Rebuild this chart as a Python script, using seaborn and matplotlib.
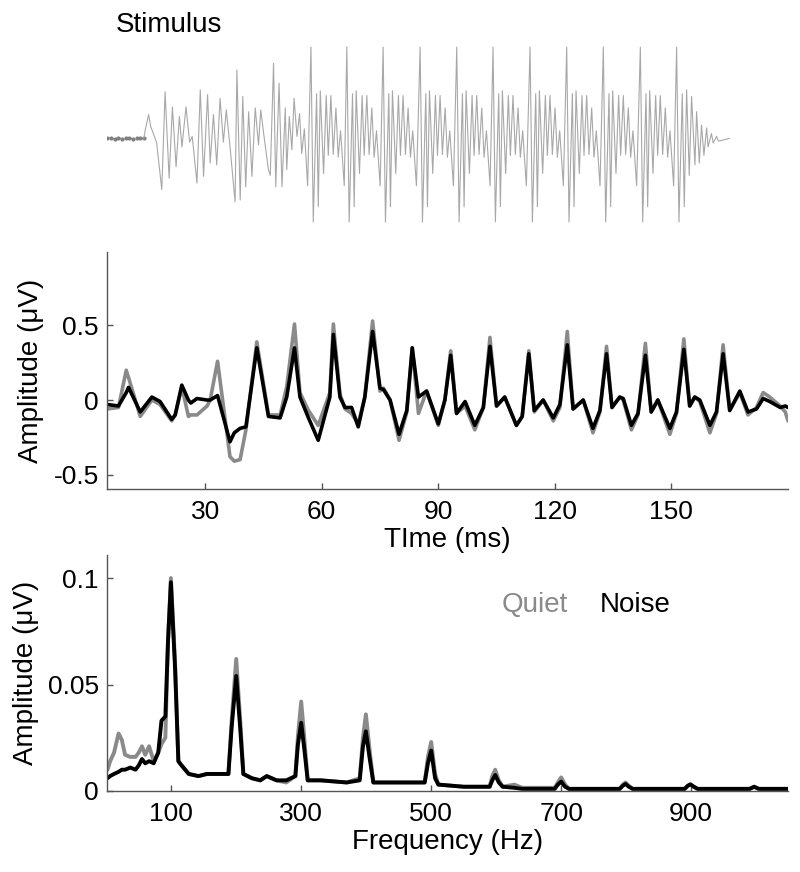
import numpy as np
import matplotlib
matplotlib.use("Agg")
import matplotlib.pyplot as plt
import seaborn as sns

# ---- stimulus ----
# pre-burst silence, 0-10 ms
pre_ms = [0, 1, 2, 3, 4, 5, 6, 7, 8, 9, 10]
pre_val = [0.0, 0.005, -0.005, 0.005, -0.005, 0.0, 0.005, -0.005, 0.0, 0.005, 0.0]

# onset burst and formant transition, extrema
trans_ms = [10.4, 11.3, 11.9, 12.6, 13.5, 14.9, 15.8, 16.9, 17.8, 18.8, 19.7, 20.4,
            21.5, 22.5, 23.2, 24.5, 25.4, 26.3, 27.4, 28.1, 29.0, 29.9, 30.8, 31.7,
            32.5, 33.6, 34.9, 35.4, 36.3, 37.0, 37.8, 38.6, 39.5, 40.4, 41.3, 41.9,
            42.7, 44.0, 44.5, 45.4, 46.0, 46.9, 47.7, 48.6, 49.0, 49.7, 50.4, 51.0,
            51.8, 52.5, 53.1, 53.8, 54.7]
trans_val = [0.09, 0.25, 0.12, 0.05, -0.05, -0.54, 0.49, -0.42, 0.33, -0.3, 0.23, -0.09,
             0.33, -0.04, 0.02, -0.47, 0.51, -0.4, 0.46, -0.26, 0.25, -0.28, 0.42, -0.04,
             0.3, -0.12, -0.67, 0.72, -0.65, 0.44, -0.51, 0.28, -0.4, 0.32, -0.07, 0.3,
             0.05, -0.33, -0.39, 0.79, -0.51, 0.58, -0.51, 0.32, -0.33, 0.23, -0.12, 0.42,
             0.02, 0.26, -0.16, 0.1, -0.5]

# vowel: pitch-period spikes and the shape of one period
spike_ms = [55.6, 65.4, 75.3, 85.4, 95.4, 105.3, 115.4, 125.4, 135.4, 145.5]
period_offset = [0, 0.64, 1.55, 2.0, 2.55, 3.45, 4.18, 4.73, 5.45, 6.09, 6.82, 7.45, 8.09, 9.09]
period_val = [0.96, -0.88, 0.47, -0.72, 0.5, -0.37, 0.45, -0.18, 0.45, -0.17, 0.32, -0.2, 0.08, -0.5]
# last period and decay
last_spike_ms = 155.4
tail_offset = [0, 0.64, 1.55, 2.09, 2.73, 3.45, 4.09, 5.0, 5.45, 6.2, 6.8, 7.45, 8.2, 8.6,
               9.5, 10.0, 10.9, 11.4, 14.5]
tail_val = [0.96, -0.88, 0.47, -0.72, 0.51, -0.39, 0.44, -0.28, 0.28, -0.26, 0.14, -0.18,
            0.11, -0.09, 0.05, -0.05, 0.02, -0.03, 0.0]

# ---- response in time (ms, uV) ----
time_ms = [4.8, 7.7, 9.7, 10.3, 13.3, 16.3, 18.4, 21.4, 22.3, 24.0, 25.7, 26.3, 27.9, 30.5,
           31.3, 33.2, 36.4, 37.5, 39.0, 40.5, 43.3, 46.3, 49.3, 51.0, 53.0, 54.4, 56.6,
           59.1, 62.1, 63.0, 64.7, 66.0, 67.7, 69.4, 71.1, 73.1, 75.0, 75.9, 77.6, 79.9,
           81.9, 83.3, 84.9, 87.0, 90.0, 91.7, 93.2, 94.7, 96.9, 99.4, 101.6, 103.3, 105.0,
           107.1, 110.1, 111.6, 113.3, 114.7, 117.0, 119.6, 121.3, 123.2, 124.7, 127.3,
           129.8, 131.6, 133.3, 134.7, 136.7, 137.6, 139.7, 141.4, 143.3, 144.8, 146.5,
           149.6, 151.3, 153.2, 154.7, 156.0, 157.3, 159.9, 161.6, 163.3, 165.0, 167.6,
           169.7, 171.9, 173.6, 175.3, 178.0, 179.3, 180.0]
quiet_uv = [-0.06, -0.05, 0.20, 0.15, -0.11, 0.0, -0.03, -0.14, -0.10, 0.09, -0.11, -0.10,
            -0.10, -0.04, 0.0, 0.26, -0.38, -0.41, -0.40, -0.20, 0.39, -0.10, -0.10, 0.09,
            0.51, 0.05, -0.07, -0.17, 0.05, 0.51, 0.04, -0.06, -0.09, -0.16, 0.02, 0.53,
            0.06, 0.08, 0.0, -0.27, -0.08, 0.35, -0.09, 0.06, -0.17, 0.0, 0.33, -0.09,
            -0.04, -0.20, -0.05, 0.42, -0.04, 0.02, -0.17, -0.11, 0.33, -0.08, 0.0, -0.14,
            -0.05, 0.46, -0.06, 0.0, -0.22, -0.08, 0.36, -0.05, 0.02, 0.0, -0.20, -0.10,
            0.38, -0.08, 0.0, -0.23, -0.09, 0.41, -0.04, 0.02, -0.01, -0.22, -0.09, 0.37,
            -0.07, 0.05, -0.10, -0.05, 0.05, 0.02, -0.04, -0.08, -0.14]
noise_uv = [-0.03, -0.04, 0.05, 0.085, -0.08, 0.02, -0.01, -0.13, -0.10, 0.10, 0.0, -0.02,
            0.01, 0.0, 0.0, 0.03, -0.28, -0.22, -0.19, -0.18, 0.35, -0.11, -0.12, 0.02,
            0.35, 0.02, -0.12, -0.27, 0.02, 0.44, 0.02, -0.05, -0.05, -0.18, 0.02, 0.46,
            0.08, 0.07, 0.0, -0.23, -0.07, 0.35, 0.02, 0.06, -0.16, 0.0, 0.30, -0.09,
            -0.01, -0.17, -0.05, 0.36, -0.04, 0.02, -0.17, -0.11, 0.31, -0.07, 0.0, -0.12,
            -0.03, 0.37, -0.06, 0.0, -0.19, -0.07, 0.31, -0.05, 0.02, 0.01, -0.17, -0.09,
            0.30, -0.08, 0.0, -0.19, -0.08, 0.34, -0.04, 0.02, 0.0, -0.17, -0.08, 0.31,
            -0.07, 0.06, -0.08, -0.06, 0.01, -0.01, -0.05, -0.04, -0.05]

# ---- spectrum (Hz, uV) ----
freq_hz = [2, 6, 12, 19, 24, 29, 37, 45, 50, 55, 60, 66, 73, 80, 85, 91, 95, 99.5, 106,
           111, 116, 127, 142, 155, 170, 188, 193, 200, 206, 211, 224, 237, 247, 262, 277,
           291, 295, 300, 305, 310, 330, 370, 390, 395, 399.5, 405, 411, 432, 460, 490,
           495, 500, 506, 511, 550, 590, 594, 598.5, 604, 610, 628, 640, 690, 695, 700,
           706, 712, 790, 795, 799, 804, 810, 890, 895, 899, 904, 910, 990, 997, 1004, 1050]
quiet_spec = [0.010, 0.014, 0.018, 0.027, 0.024, 0.017, 0.016, 0.016, 0.018, 0.021, 0.017,
              0.021, 0.014, 0.018, 0.022, 0.025, 0.070, 0.100, 0.060, 0.014, 0.012, 0.008,
              0.007, 0.008, 0.008, 0.008, 0.033, 0.062, 0.034, 0.008, 0.006, 0.005, 0.007,
              0.005, 0.004, 0.007, 0.026, 0.042, 0.024, 0.005, 0.005, 0.004, 0.006, 0.025,
              0.036, 0.020, 0.004, 0.004, 0.004, 0.004, 0.016, 0.023, 0.008, 0.003, 0.002,
              0.002, 0.007, 0.010, 0.005, 0.002, 0.003, 0.0015, 0.0015, 0.004, 0.0064,
              0.003, 0.001, 0.001, 0.003, 0.004, 0.0025, 0.001, 0.001, 0.0025, 0.0031,
              0.002, 0.001, 0.001, 0.002, 0.001, 0.001]
noise_spec = [0.006, 0.007, 0.008, 0.009, 0.010, 0.010, 0.011, 0.010, 0.012, 0.015, 0.013,
              0.014, 0.013, 0.018, 0.033, 0.035, 0.070, 0.098, 0.057, 0.014, 0.012, 0.008,
              0.007, 0.008, 0.008, 0.008, 0.030, 0.054, 0.030, 0.008, 0.006, 0.005, 0.007,
              0.005, 0.005, 0.007, 0.022, 0.032, 0.019, 0.005, 0.005, 0.004, 0.005, 0.021,
              0.028, 0.016, 0.004, 0.004, 0.004, 0.004, 0.013, 0.019, 0.006, 0.003, 0.002,
              0.002, 0.005, 0.0075, 0.004, 0.002, 0.0015, 0.001, 0.001, 0.003, 0.0044,
              0.002, 0.001, 0.001, 0.0025, 0.0033, 0.002, 0.001, 0.001, 0.0025, 0.0031,
              0.002, 0.001, 0.001, 0.002, 0.001, 0.001]

time_ticks = [30, 60, 90, 120, 150]
freq_ticks = [100, 300, 500, 700, 900]

quiet_col = "#8a8a8a"
noise_col = "#000000"
spine_col = "#555555"

sns.set_style("ticks")
plt.rcParams["font.family"] = ["Liberation Sans", "DejaVu Sans"]
plt.rcParams["axes.unicode_minus"] = False
plt.rcParams["text.color"] = "black"
plt.rcParams["axes.labelcolor"] = "black"
plt.rcParams["xtick.labelcolor"] = "black"
plt.rcParams["ytick.labelcolor"] = "black"

fig = plt.figure(figsize=(8, 8.72), dpi=100)

# stimulus waveform
vowel_ms = np.concatenate([s + np.array(period_offset) for s in spike_ms])
vowel_val = np.tile(period_val, len(spike_ms))
stim_ms = np.concatenate([trans_ms, vowel_ms, last_spike_ms + np.array(tail_offset)])
stim_val = np.concatenate([trans_val, vowel_val, tail_val])

ax0 = fig.add_axes([0.134, 0.7248, 0.851, 0.2408])
ax0.plot(pre_ms, pre_val, color="#808080", lw=0.8, ls="--", marker="o", ms=3,
         markeredgewidth=0)
sns.lineplot(x=np.r_[pre_ms[-1], stim_ms], y=np.r_[pre_val[-1], stim_val], ax=ax0,
             color="#a8a8a8", lw=0.8, sort=False, estimator=None)
ax0.set_xlim(0, 185.8)
ax0.set_ylim(-1.07, 1.14)
ax0.axis("off")
fig.text(0.145, 1 - 31.7 / 872, "Stimulus", fontsize=20, va="baseline")


def style(ax):
    sns.despine(ax=ax)
    for s in ("left", "bottom"):
        ax.spines[s].set_color(spine_col)
        ax.spines[s].set_linewidth(1.0)
    ax.tick_params(direction="in", length=4.5, width=1.0, color=spine_col,
                   labelsize=19, pad=6)
    ax.tick_params(axis="x", pad=8)


# time domain response
ax1 = fig.add_axes([0.134, 0.4392, 0.851, 0.2718])
sns.lineplot(x=time_ms, y=quiet_uv, ax=ax1, color=quiet_col, lw=2.6, estimator=None)
sns.lineplot(x=time_ms, y=noise_uv, ax=ax1, color=noise_col, lw=2.6, estimator=None)
ax1.set_xlim(4.8, 180)
ax1.set_ylim(-0.597, 0.993)
ax1.set_xticks(time_ticks)
ax1.set_yticks([-0.5, 0, 0.5])
ax1.set_yticklabels(["-0.5", "0", "0.5"])
style(ax1)
ax1.set_xlabel("TIme (ms)", fontsize=20, labelpad=2)
ax1.set_ylabel("Amplitude (\u03bcV)", fontsize=20, labelpad=7)

# spectrum
ax2 = fig.add_axes([0.134, 0.0929, 0.851, 0.2706])
sns.lineplot(x=freq_hz, y=quiet_spec, ax=ax2, color=quiet_col, lw=2.8, estimator=None)
sns.lineplot(x=freq_hz, y=noise_spec, ax=ax2, color=noise_col, lw=2.8, estimator=None)
ax2.set_xlim(1.5, 1049)
ax2.set_ylim(0, 0.1108)
ax2.set_xticks(freq_ticks)
ax2.set_yticks([0, 0.05, 0.1])
ax2.set_yticklabels(["0", "0.05", "0.1"])
style(ax2)
ax2.set_xlabel("Frequency (Hz)", fontsize=20, labelpad=2)
ax2.set_ylabel("Amplitude (\u03bcV)", fontsize=20, labelpad=6)
ax2.text(0.5796, 0.788, "Quiet", color=quiet_col, fontsize=20, transform=ax2.transAxes,
         va="center")
ax2.text(0.724, 0.788, "Noise", color=noise_col, fontsize=20, transform=ax2.transAxes,
         va="center")

fig.savefig("out.png", dpi=100)
